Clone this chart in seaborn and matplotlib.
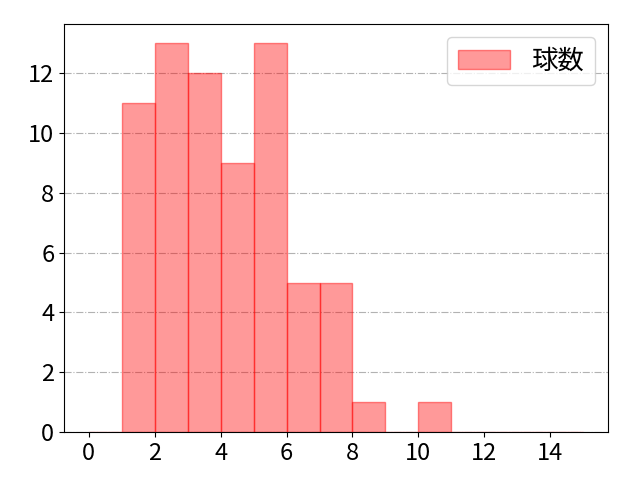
import matplotlib
matplotlib.use("Agg")
import matplotlib.pyplot as plt
import seaborn as sns

# bins of width 1 from 0 to 15
bin_edges = list(range(0, 16))
bin_lefts = bin_edges[:-1]
counts = [0, 11, 13, 12, 9, 13, 5, 5, 1, 0, 1, 0, 0, 0, 0]

sns.set_style("ticks")
plt.rcParams['font.family'] = ['Noto Sans CJK JP', 'DejaVu Sans']
plt.rcParams['font.size'] = 17
for key in ['text.color', 'axes.edgecolor', 'xtick.color', 'ytick.color', 'axes.labelcolor']:
    plt.rcParams[key] = 'black'

fig, ax = plt.subplots(figsize=(6.4, 4.8), dpi=100)
sns.histplot(x=bin_lefts, weights=counts, bins=bin_edges, color='red', alpha=0.4,
             edgecolor=(1, 0, 0, 0.45), linewidth=1, label='球数', ax=ax)
ax.grid(axis='y', color='#aaaaaa', linestyle='-.', alpha=0.9)
ax.set_axisbelow(True)
ax.set_ylabel('')
ax.set_xticks(range(0, 16, 2))
ax.set_yticks(range(0, 13, 2))
ax.tick_params(labelsize=17)
ax.legend(loc='upper right', handlelength=2.0, handletextpad=0.8, fontsize=19)
fig.subplots_adjust(left=0.1, right=0.95, top=0.95, bottom=0.1)
plt.savefig('out.png')
